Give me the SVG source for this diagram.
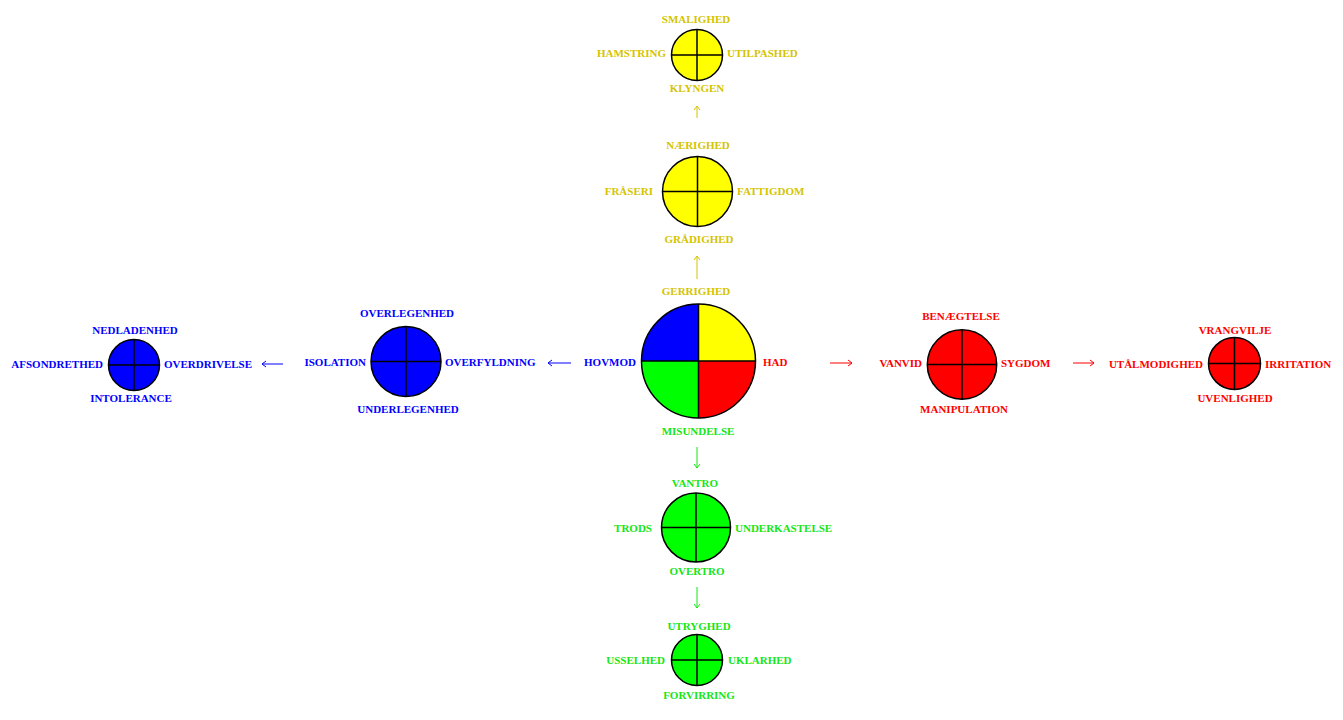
<svg xmlns="http://www.w3.org/2000/svg" width="1343" height="720" viewBox="0 0 1343 720">
<style>
text{font-family:"Liberation Serif","Times New Roman",serif;font-weight:bold;font-size:11px}
.m{text-anchor:middle}.e{text-anchor:end}.s{text-anchor:start}
.y{fill:#d4c400}.b{fill:#0000ff}.r{fill:#ff0000}.g{fill:#14e614}
.c{stroke:#000;stroke-width:1.5}
.x{stroke:#000;stroke-width:1.5;fill:none}
.a{fill:none;stroke-width:1}
</style>
<defs>
<marker id="hy" markerWidth="8" markerHeight="8" refX="6" refY="4" orient="auto" markerUnits="userSpaceOnUse"><path d="M2,1 L6,4 L2,7" fill="none" stroke="#d4c400" stroke-width="1"/></marker>
<marker id="hb" markerWidth="8" markerHeight="8" refX="6" refY="4" orient="auto" markerUnits="userSpaceOnUse"><path d="M2,1 L6,4 L2,7" fill="none" stroke="#0000ff" stroke-width="1"/></marker>
<marker id="hr" markerWidth="8" markerHeight="8" refX="6" refY="4" orient="auto" markerUnits="userSpaceOnUse"><path d="M2,1 L6,4 L2,7" fill="none" stroke="#ff0000" stroke-width="1"/></marker>
<marker id="hg" markerWidth="8" markerHeight="8" refX="6" refY="4" orient="auto" markerUnits="userSpaceOnUse"><path d="M2,1 L6,4 L2,7" fill="none" stroke="#14e614" stroke-width="1"/></marker>
</defs>
<rect width="1343" height="720" fill="#fff"/>
<g id="connectors" class="a">
<line x1="697" y1="118" x2="697" y2="106" stroke="#d4c400" marker-end="url(#hy)"/>
<line x1="697" y1="279" x2="697" y2="256" stroke="#d4c400" marker-end="url(#hy)"/>
<line x1="571" y1="363" x2="548" y2="363" stroke="#0000ff" marker-end="url(#hb)"/>
<line x1="283" y1="364" x2="262" y2="364" stroke="#0000ff" marker-end="url(#hb)"/>
<line x1="830" y1="363" x2="852" y2="363" stroke="#ff0000" marker-end="url(#hr)"/>
<line x1="1073" y1="363" x2="1094" y2="363" stroke="#ff0000" marker-end="url(#hr)"/>
<line x1="697" y1="447" x2="697" y2="468" stroke="#14e614" marker-end="url(#hg)"/>
<line x1="697" y1="587" x2="697" y2="608" stroke="#14e614" marker-end="url(#hg)"/>
</g>
<g id="center">
<path d="M698.5,361 L698.5,304 A57,57 0 0 1 755.5,361 Z" fill="#ffff00"/>
<path d="M698.5,361 L755.5,361 A57,57 0 0 1 698.5,418 Z" fill="#ff0000"/>
<path d="M698.5,361 L698.5,418 A57,57 0 0 1 641.5,361 Z" fill="#00ff00"/>
<path d="M698.5,361 L641.5,361 A57,57 0 0 1 698.5,304 Z" fill="#0000ff"/>
<circle cx="698.5" cy="361" r="57" class="x"/>
<path d="M698.5,304 V418 M641.5,361 H755.5" class="x"/>
<text x="696" y="295" class="m y">GERRIGHED</text>
<text x="636" y="366" class="e b">HOVMOD</text>
<text x="763" y="366" class="s r">HAD</text>
<text x="698" y="435" class="m g">MISUNDELSE</text>
</g>
<g id="yellow1">
<circle cx="697.5" cy="191.5" r="35" fill="#ffff00" class="c"/>
<path d="M697.5,156.5 V226.5 M662.5,191.5 H732.5" class="x"/>
<text x="698" y="149" class="m y">NÆRIGHED</text>
<text x="653" y="195" class="e y">FRÅSERI</text>
<text x="737" y="195" class="s y">FATTIGDOM</text>
<text x="699" y="243" class="m y">GRÅDIGHED</text>
</g>
<g id="yellow2">
<circle cx="697" cy="55" r="25.5" fill="#ffff00" class="c"/>
<path d="M697,29.5 V80.5 M671.5,55 H722.5" class="x"/>
<text x="696" y="23" class="m y">SMALIGHED</text>
<text x="666" y="57" class="e y">HAMSTRING</text>
<text x="727" y="57" class="s y">UTILPASHED</text>
<text x="697" y="92" class="m y">KLYNGEN</text>
</g>
<g id="blue1">
<circle cx="406" cy="361.5" r="35" fill="#0000ff" class="c"/>
<path d="M406,326.5 V396.5 M371,361.5 H441" class="x"/>
<text x="407" y="317" class="m b">OVERLEGENHED</text>
<text x="366" y="366" class="e b">ISOLATION</text>
<text x="445" y="366" class="s b">OVERFYLDNING</text>
<text x="408" y="413" class="m b">UNDERLEGENHED</text>
</g>
<g id="blue2">
<circle cx="134" cy="365" r="25.5" fill="#0000ff" class="c"/>
<path d="M134,339.5 V390.5 M108.5,365 H159.5" class="x"/>
<text x="135" y="334" class="m b">NEDLADENHED</text>
<text x="103" y="368" class="e b">AFSONDRETHED</text>
<text x="164" y="368" class="s b">OVERDRIVELSE</text>
<text x="131" y="402" class="m b">INTOLERANCE</text>
</g>
<g id="red1">
<circle cx="962" cy="364.5" r="34.7" fill="#ff0000" class="c"/>
<path d="M962,329.8 V399.2 M927.3,364.5 H996.7" class="x"/>
<text x="961" y="320" class="m r">BENÆGTELSE</text>
<text x="922" y="367" class="e r">VANVID</text>
<text x="1001" y="367" class="s r">SYGDOM</text>
<text x="964" y="413" class="m r">MANIPULATION</text>
</g>
<g id="red2">
<circle cx="1234.5" cy="363.5" r="26" fill="#ff0000" class="c"/>
<path d="M1234.5,337.5 V389.5 M1208.5,363.5 H1260.5" class="x"/>
<text x="1235" y="334" class="m r">VRANGVILJE</text>
<text x="1203" y="368" class="e r">UTÅLMODIGHED</text>
<text x="1265" y="368" class="s r">IRRITATION</text>
<text x="1235" y="402" class="m r">UVENLIGHED</text>
</g>
<g id="green1">
<circle cx="696" cy="527.5" r="34.5" fill="#00ff00" class="c"/>
<path d="M696,493 V562 M661.5,527.5 H730.5" class="x"/>
<text x="695" y="487" class="m g">VANTRO</text>
<text x="652" y="532" class="e g">TRODS</text>
<text x="735" y="532" class="s g">UNDERKASTELSE</text>
<text x="697" y="575" class="m g">OVERTRO</text>
</g>
<g id="green2">
<circle cx="697" cy="660" r="25.5" fill="#00ff00" class="c"/>
<path d="M697,634.5 V685.5 M671.5,660 H722.5" class="x"/>
<text x="699" y="630" class="m g">UTRYGHED</text>
<text x="665" y="664" class="e g">USSELHED</text>
<text x="728" y="664" class="s g">UKLARHED</text>
<text x="699" y="699" class="m g">FORVIRRING</text>
</g>
</svg>
